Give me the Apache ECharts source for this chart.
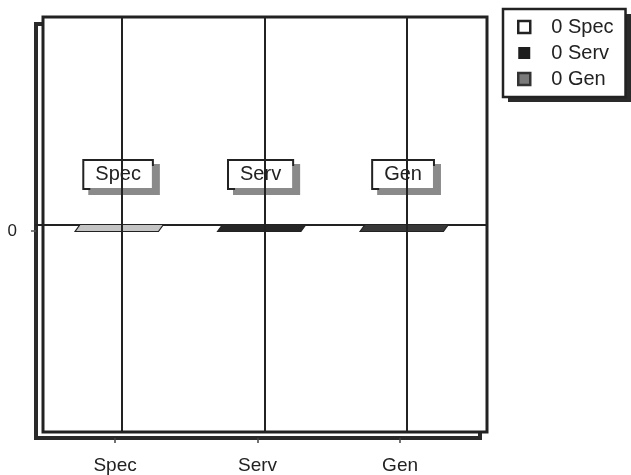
<!DOCTYPE html>
<html>
<head>
<meta charset="utf-8">
<script src="https://cdn.jsdelivr.net/npm/echarts@6/dist/echarts.min.js"></script>
<style>
html, body { margin: 0; padding: 0; background: #fff; }
#container { width: 631px; height: 475px; }
</style>
</head>
<body>
<div id="container"></div>
<script>
// data
var categories = ['Spec', 'Serv', 'Gen'];
var values     = [0, 0, 0];
var catPos     = [1, 2, 3];
var minorTicks = [0.5, 0.75, 1.25, 1.5, 1.75, 2.25, 2.5, 2.75, 3.25, 3.5];
var yTicks     = [0];

var slabFill   = ['#c4c4c4', '#262626', '#383838'];
var iconStyles = [
    {color: '#fff', borderColor: '#222', borderWidth: 2.5},
    {color: '#1e1e1e', borderColor: '#1e1e1e', borderWidth: 0},
    {color: '#7a7a7a', borderColor: '#333', borderWidth: 2.5}
];

var font = '"Liberation Sans", Arial, Helvetica, sans-serif';
var ink  = '#222';
var xMin = 0.445, xMax = 3.561;

var dom   = document.getElementById('container');
var chart = echarts.init(dom);

function makeSeries(i) {
    return {
        name: categories[i],
        type: 'custom',
        xAxisIndex: 2,
        yAxisIndex: 1,
        z: 4,
        data: [[catPos[i], values[i]]],
        renderItem: function (params, api) {
            var p = api.coord([api.value(0), api.value(1)]);
            var w = api.size([0.585, 0])[0];
            var h = 7, skew = 5;
            var l = p[0] - 42;
            return {
                type: 'group',
                children: [
                    {
                        type: 'polygon',
                        shape: {points: [[l, p[1]], [l + w, p[1]], [l + w - skew, p[1] + h], [l - skew, p[1] + h]]},
                        style: {fill: slabFill[i], stroke: ink, lineWidth: 1.2}
                    },
                    {
                        type: 'text',
                        x: p[0] - 4,
                        y: p[1] - 50,
                        z2: 10,
                        style: {
                            text: categories[i],
                            font: '20px ' + font,
                            fill: ink,
                            align: 'center',
                            verticalAlign: 'middle',
                            lineHeight: 22,
                            backgroundColor: '#fff',
                            borderColor: ink,
                            borderWidth: 2,
                            padding: [3, 11, 2, 11],
                            shadowColor: '#8a8a8a',
                            shadowOffsetX: 6,
                            shadowOffsetY: 5,
                            shadowBlur: 0
                        }
                    }
                ]
            };
        }
    };
}

var series = [];
for (var i in categories) {
    series.push(makeSeries(+i));
}
// vertical grid lines at each category
series.push({
    name: 'guide',
    type: 'line',
    xAxisIndex: 2,
    yAxisIndex: 1,
    z: 3,
    data: [],
    markLine: {
        silent: true,
        symbol: 'none',
        label: {show: false},
        lineStyle: {color: ink, width: 2, type: 'solid'},
        data: catPos.map(function (v) { return {xAxis: v}; })
    }
});

option = {
    animation: false,
    textStyle: {fontFamily: font},
    // legend drop shadow
    graphic: [{
        type: 'rect', left: 508, top: 14, z: 3, silent: true,
        shape: {width: 123, height: 88},
        style: {fill: '#2a2a2a'}
    }],
    grid: [
        // shadow frame
        {show: true, left: 36, top: 24, right: 151, bottom: 36, z: 0,
         backgroundColor: '#fff', borderColor: '#2a2a2a', borderWidth: 4},
        // main frame
        {show: true, left: 43, top: 17, right: 144, bottom: 43, z: 1,
         backgroundColor: '#fff', borderColor: ink, borderWidth: 3}
    ],
    legend: {
        orient: 'vertical',
        left: 503,
        top: 9,
        z: 5,
        padding: [7, 12, 7, 14],
        itemWidth: 12,
        itemHeight: 12,
        itemGap: 4,
        backgroundColor: '#fff',
        borderColor: ink,
        borderWidth: 2.5,
        textStyle: {fontSize: 20, color: ink, fontFamily: font, padding: [0, 0, 0, 16], lineHeight: 22},
        data: categories.map(function (c, k) {
            return {name: c, icon: 'rect', itemStyle: iconStyles[k]};
        }),
        formatter: function (name) {
            return values[categories.indexOf(name)] + ' ' + name;
        }
    },
    xAxis: [
        {
            gridIndex: 0, type: 'value', position: 'bottom', min: xMin, max: xMax,
            axisLine: {show: false}, splitLine: {show: false},
            axisTick: {customValues: minorTicks, length: 3, lineStyle: {color: '#777', width: 1}},
            axisLabel: {show: false}
        },
        {
            gridIndex: 0, type: 'value', position: 'bottom', min: xMin, max: xMax,
            axisLine: {show: false}, splitLine: {show: false},
            axisTick: {customValues: catPos, length: 5, lineStyle: {color: '#444', width: 1.5}},
            axisLabel: {
                customValues: catPos, fontSize: 19, color: ink, margin: 18,
                formatter: function (v) { return categories[Math.round(v) - 1]; }
            }
        },
        {gridIndex: 1, type: 'value', min: xMin, max: xMax, show: false}
    ],
    yAxis: [
        {
            gridIndex: 0, type: 'value', min: -1, max: 1,
            axisLine: {show: false}, splitLine: {show: false},
            axisTick: {customValues: yTicks, length: 5, lineStyle: {color: '#555', width: 1.5}},
            axisLabel: {customValues: yTicks, fontSize: 17, color: ink, margin: 19}
        },
        {
            gridIndex: 1, type: 'value', min: -1, max: 1, z: 2,
            axisLine: {show: false},
            axisTick: {show: true, customValues: yTicks, length: 8, lineStyle: {color: ink, width: 2}},
            axisLabel: {show: false},
            splitLine: {show: true, lineStyle: {color: ink, width: 2}}
        }
    ],
    series: series
};

chart.setOption(option, true);
</script>
</body>
</html>
